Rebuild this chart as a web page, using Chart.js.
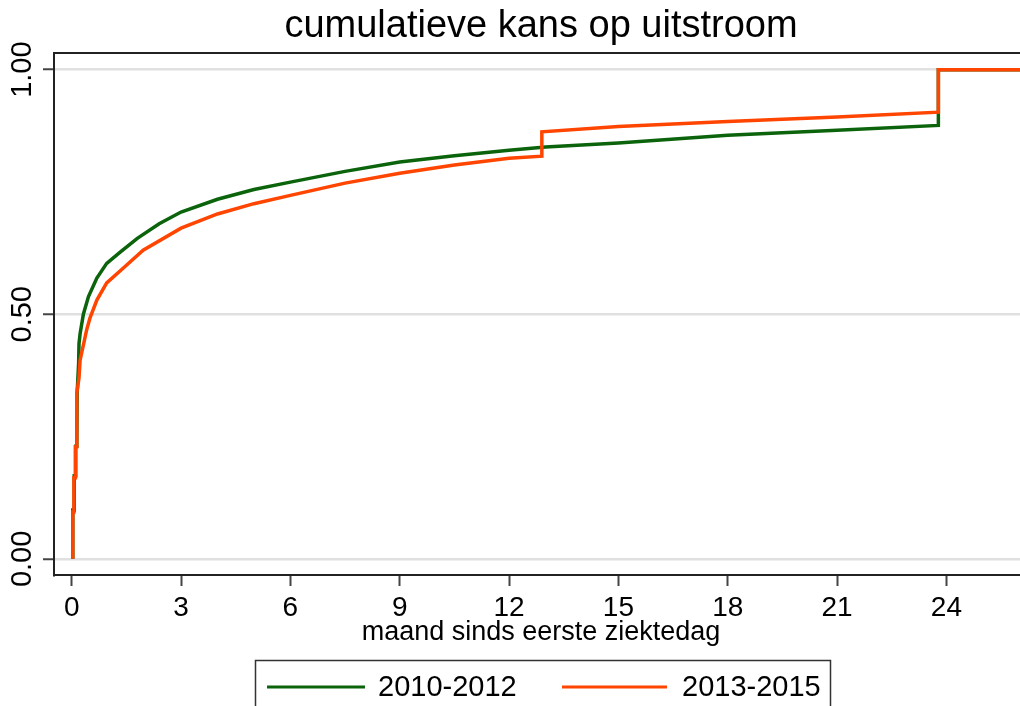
<!DOCTYPE html>
<html>
<head>
<meta charset="utf-8">
<script src="https://cdn.jsdelivr.net/npm/chart.js@4.4.1/dist/chart.umd.min.js"></script>
<style>
html,body{margin:0;padding:0;background:#fff;}
canvas{display:block;}
</style>
</head>
<body>
<canvas id="c" width="1020" height="706"></canvas>
<script>
// ---- data ----
const chartTitle = "cumulatieve kans op uitstroom";
const xAxisTitle = "maand sinds eerste ziektedag";
const seriesNames = ["2010-2012", "2013-2015"];
const xTickValues = [0, 3, 6, 9, 12, 15, 18, 21, 24];
const yTickValues = [0, 0.5, 1];
const yTickLabels = ["0.00", "0.50", "1.00"];

// 2010-2012 (months, cumulative probability)
const months2010 = [0.03,0.03,0.07,0.07,0.11,0.11,0.14,0.15,0.19,0.20,0.23,0.32,0.46,0.69,0.96,1.33,1.8,2.4,3,4,5,6,7.5,9,10.5,12,13,15,18,21,23.78,23.78,26.02];
const values2010 = [0,0.10,0.10,0.17,0.17,0.23,0.23,0.34,0.40,0.44,0.46,0.50,0.536,0.574,0.604,0.627,0.655,0.685,0.709,0.735,0.755,0.770,0.792,0.811,0.824,0.835,0.842,0.850,0.866,0.876,0.886,1.0,1.0];

// 2013-2015
const months2013 = [0.03,0.03,0.06,0.06,0.10,0.10,0.14,0.14,0.20,0.23,0.41,0.50,0.69,0.96,1.41,1.96,3,4,5,6,7.5,9,10.5,12,12.9,12.9,15,18,21,23.78,23.78,26.02];
const values2013 = [0,0.096,0.096,0.166,0.166,0.229,0.229,0.339,0.37,0.406,0.468,0.492,0.529,0.564,0.594,0.631,0.676,0.705,0.726,0.743,0.768,0.788,0.805,0.819,0.823,0.873,0.884,0.894,0.903,0.913,1.0,1.0];

const colors = ["#0b640b", "#ff4500"];
const FONT = "'Liberation Sans', Arial, Helvetica, sans-serif";

function toPts(xs, ys){ return xs.map((x,i)=>({x:x, y:ys[i]})); }

const extras = {
  id: 'extras',
  afterDraw(chart){
    const ctx = chart.ctx;
    const a = chart.chartArea;
    const ys = chart.scales.y;
    ctx.save();
    // top frame line
    ctx.strokeStyle = '#222';
    ctx.lineWidth = 2;
    ctx.beginPath();
    ctx.moveTo(a.left-1, a.top);
    ctx.lineTo(a.right, a.top);
    ctx.stroke();
    // title
    ctx.fillStyle = '#000';
    ctx.font = "38px " + FONT;
    ctx.textAlign = 'center';
    ctx.textBaseline = 'middle';
    ctx.fillText(chartTitle, 541, 27);
    // y tick labels, rotated
    ctx.font = "29px " + FONT;
    yTickValues.forEach((v,i)=>{
      const py = ys.getPixelForValue(v);
      ctx.save();
      ctx.translate(23, py);
      ctx.rotate(-Math.PI/2);
      ctx.fillText(yTickLabels[i], 0, 0);
      ctx.restore();
    });
    // x axis title
    ctx.font = "27px " + FONT;
    ctx.fillText(xAxisTitle, 541, 633);
    // legend
    ctx.strokeStyle = '#333';
    ctx.lineWidth = 1.5;
    ctx.strokeRect(255.5, 660.5, 575, 60);
    ctx.font = "29px " + FONT;
    ctx.textAlign = 'left';
    const items = [
      {x0:267, x1:365, tx:378},
      {x0:562, x1:667, tx:682}
    ];
    items.forEach((it,i)=>{
      ctx.strokeStyle = colors[i];
      ctx.lineWidth = 3;
      ctx.beginPath();
      ctx.moveTo(it.x0, 687);
      ctx.lineTo(it.x1, 687);
      ctx.stroke();
      ctx.fillStyle = '#000';
      ctx.fillText(seriesNames[i], it.tx, 688);
    });
    ctx.restore();
  }
};

new Chart(document.getElementById('c'), {
  type: 'line',
  data: {
    datasets: [
      { label: seriesNames[0], data: toPts(months2010, values2010), borderColor: colors[0], backgroundColor: colors[0], borderWidth: 3.5, pointRadius: 0, tension: 0, fill: false, order: 1 },
      { label: seriesNames[1], data: toPts(months2013, values2013), borderColor: colors[1], backgroundColor: colors[1], borderWidth: 3.5, pointRadius: 0, tension: 0, fill: false, order: 0 }
    ]
  },
  options: {
    responsive: false,
    animation: false,
    events: [],
    layout: { padding: { top: 53 } },
    plugins: {
      legend: { display: false },
      tooltip: { enabled: false },
      title: { display: false }
    },
    scales: {
      x: {
        type: 'linear',
        min: -0.486,
        max: 26.02,
        afterBuildTicks(s){ s.ticks = xTickValues.map(v=>({value:v})); },
        afterFit(s){ s.height = 131; },
        ticks: { color: '#000', font: { family: FONT, size: 28 }, padding: 5, maxRotation: 0, autoSkip: false,
                 callback: v => String(v) },
        grid: { drawOnChartArea: false, drawTicks: true, tickLength: 11, tickColor: '#444', tickWidth: 2 },
        border: { display: true, color: '#222', width: 2 }
      },
      y: {
        type: 'linear',
        min: -0.033,
        max: 1.034,
        afterBuildTicks(s){ s.ticks = yTickValues.map(v=>({value:v})); },
        afterFit(s){ s.width = 54; },
        ticks: { display: false },
        grid: { color: '#e0e0e0', lineWidth: 2.5, drawTicks: true, tickLength: 11, tickColor: '#444', tickWidth: 2 },
        border: { display: true, color: '#222', width: 2 }
      }
    }
  },
  plugins: [extras]
});
</script>
</body>
</html>
